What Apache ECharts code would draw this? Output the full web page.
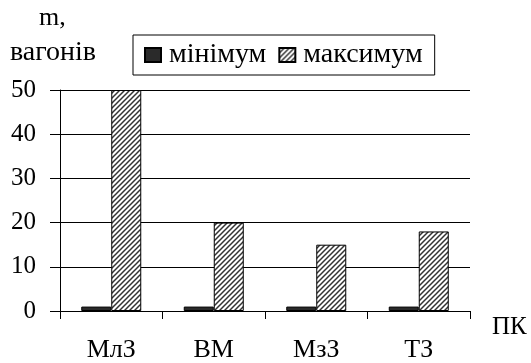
<!DOCTYPE html>
<html><head><meta charset="utf-8">
<script src="https://cdn.jsdelivr.net/npm/echarts@6/dist/echarts.min.js"></script>
<style>html,body{margin:0;padding:0;background:#fff}#c{width:531px;height:363px}</style>
</head><body><div id="c"></div>
<script>
const categories = ['МлЗ', 'ВМ', 'МзЗ', 'ТЗ'];
const minValues = [1, 1, 1, 1];
const maxValues = [50, 20, 15, 18];
const yTicks = { min: 0, max: 50, interval: 10 };

function hatch() {
  const s = 5, c = document.createElement('canvas');
  c.width = s; c.height = s;
  const g = c.getContext('2d');
  g.fillStyle = '#fff'; g.fillRect(0, 0, s, s);
  g.strokeStyle = '#333'; g.lineWidth = 1.5;
  g.beginPath();
  g.moveTo(0, s); g.lineTo(s, 0);
  g.moveTo(-1, 1); g.lineTo(1, -1);
  g.moveTo(s - 1, s + 1); g.lineTo(s + 1, s - 1);
  g.stroke();
  return c;
}
const font = 'Liberation Serif';
const chart = echarts.init(document.getElementById('c'), null, { renderer: 'canvas' });
chart.setOption({
  animation: false,
  textStyle: { fontFamily: font, color: '#000' },
  grid: { left: 60, right: 61, top: 90, bottom: 51 },
  legend: {
    left: 133, top: 35,
    padding: [6, 12, 6, 11],
    borderColor: '#000', borderWidth: 1,
    itemWidth: 16, itemHeight: 14, itemGap: 12,
    icon: 'rect',
    textStyle: { fontFamily: font, fontSize: 28, color: '#000', padding: [0, 0, 0, 3] },
    data: ['мінімум', 'максимум']
  },
  xAxis: {
    type: 'category', data: categories,
    axisLine: { lineStyle: { color: '#000', width: 1 } },
    axisTick: { show: true, length: 8, interval: 0, lineStyle: { color: '#000' } },
    axisLabel: { fontFamily: font, fontSize: 26, color: '#000', margin: 26, interval: 0 },
    name: 'ПК', nameLocation: 'end', nameGap: 22,
    nameTextStyle: { fontFamily: font, fontSize: 25, color: '#000', verticalAlign: 'top', padding: [4, 0, 0, 0] }
  },
  yAxis: {
    type: 'value', min: yTicks.min, max: yTicks.max, interval: yTicks.interval,
    axisLine: { show: true, lineStyle: { color: '#000', width: 1 } },
    axisTick: { show: true, length: 10, lineStyle: { color: '#000' } },
    axisLabel: { fontFamily: font, fontSize: 25, color: '#000', margin: 24 },
    splitLine: { show: true, lineStyle: { color: '#000', width: 1 } }
  },
  graphic: [
    { type: 'text', left: 39, top: 5, style: { text: 'm,', fontFamily: font, fontSize: 26, fill: '#000' } },
    { type: 'text', left: 10, top: 39, style: { text: 'вагонів', fontFamily: font, fontSize: 28, fill: '#000' } }
  ],
  series: [
    { name: 'мінімум', type: 'bar', data: minValues, barWidth: 30, barGap: '0%',
      itemStyle: { color: '#2a2a2a', borderColor: '#000', borderWidth: 1 } },
    { name: 'максимум', type: 'bar', data: maxValues, barWidth: 30, barGap: '0%',
      itemStyle: { color: { image: hatch(), repeat: 'repeat' }, borderColor: '#000', borderWidth: 1 } }
  ]
});
</script></body></html>
